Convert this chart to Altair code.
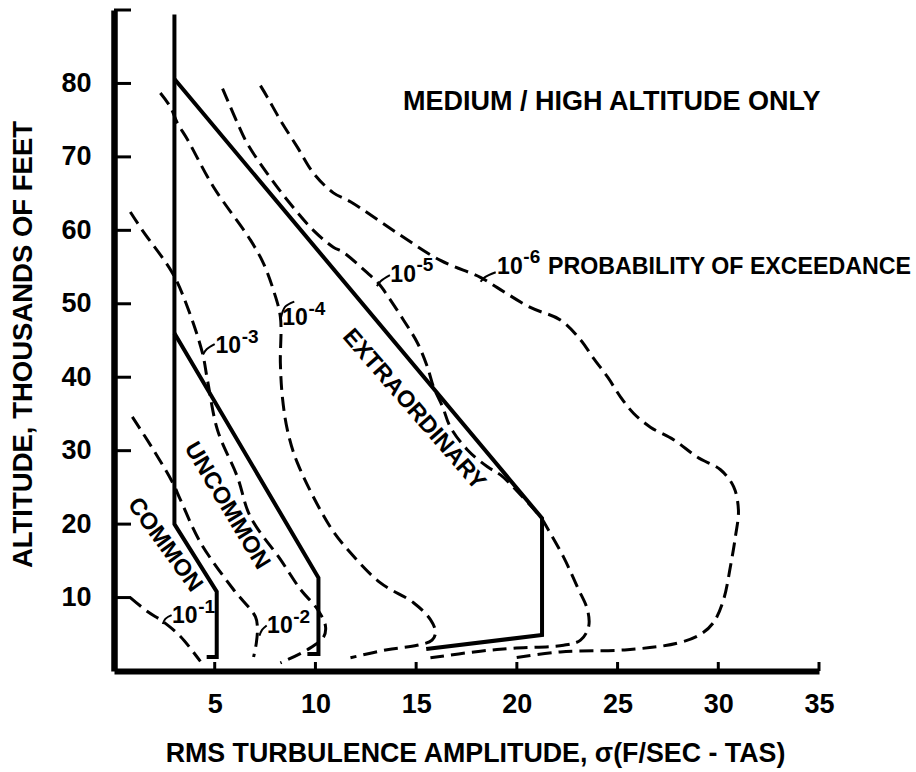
import altair as alt
import pandas as pd

FONT = "Liberation Sans, Arial, Helvetica, sans-serif"

# ---------------- solid region boundaries (sigma, altitude in 1000 ft)
common_x = [3.0, 3.0, 5.1, 5.1, 4.6]
common_y = [89.4, 20.0, 10.8, 1.9, 1.9]
uncommon_x = [3.0, 10.15, 10.15, 9.6]
uncommon_y = [46.0, 12.7, 2.3, 2.3]
extra_x = [3.0, 21.25, 21.25, 15.5]
extra_y = [80.6, 20.8, 4.9, 3.0]

# ---------------- probability of exceedance contours (dashed)
p1_x = [0.81, 1.66, 2.45, 3.30, 4.29]
p1_y = [10.0, 8.1, 6.7, 4.7, 1.3]
p2_x = [0.91, 1.96, 2.90, 3.30, 4.29, 5.93, 7.02, 7.12, 7.07, 6.93]
p2_y = [34.6, 30.1, 25.7, 23.3, 17.5, 11.1, 7.4, 6.0, 3.9, 1.9]
p3_x = [0.81, 1.41, 2.90, 3.64, 4.39, 4.64, 5.14, 6.13, 6.77, 8.26, 9.26, 10.1, 10.5, 10.4, 9.6, 8.26]
p3_y = [62.5, 60.0, 54.2, 49.6, 43.3, 39.6, 32.8, 26.4, 21.0, 15.2, 11.1, 8.4, 6.1, 4.6, 2.9, 1.1]
p4_x = [2.30, 2.80, 3.15, 3.64, 4.94, 6.77, 7.42, 7.91, 8.26, 8.26, 8.36, 8.61, 9.11, 10.74, 11.74,
        13.23, 14.87, 15.71, 15.96, 15.79, 15.05, 13.56, 11.74]
p4_y = [78.7, 76.8, 74.6, 72.4, 65.9, 58.7, 55.5, 51.9, 48.2, 41.9, 37.3, 32.8, 28.3, 19.6, 16.1,
        12.0, 9.3, 7.0, 5.3, 4.2, 3.5, 2.9, 1.8]
p5_x = [5.39, 5.64, 6.13, 6.62, 7.62, 8.61, 9.90, 10.89, 11.39, 12.58, 13.13, 13.48, 14.37, 15.06,
        15.56, 15.86, 16.31, 16.70, 17.55, 18.54, 19.19, 20.18, 21.22, 21.42, 22.32, 23.01, 23.51,
        23.56, 23.16, 22.32, 19.83, 18.19, 15.71]
p5_y = [79.3, 77.7, 74.6, 71.8, 67.7, 64.1, 60.0, 57.7, 57.0, 54.2, 52.8, 51.5, 47.8, 44.7,
        41.4, 38.7, 36.0, 33.2, 30.1, 27.8, 26.7, 24.0, 20.8, 19.9, 15.5, 11.4, 8.3,
        6.0, 4.2, 3.5, 3.1, 2.7, 1.8]
p6_x = [7.27, 7.62, 8.26, 9.11, 9.90, 10.89, 11.74, 14.07, 16.21, 18.19, 19.03, 20.67, 22.16, 23.16,
        23.80, 24.51, 25.15, 25.79, 26.63, 27.78, 28.97, 30.11, 30.76, 31.0, 30.85, 30.60, 30.26,
        29.76, 29.12, 27.98, 25.49, 22.16, 19.93, 19.68]
p6_y = [79.7, 78.1, 75.0, 71.3, 67.8, 65.1, 63.9, 59.6, 55.9, 53.6, 52.2, 49.5, 47.8, 45.1,
        42.6, 40.0, 37.3, 35.1, 33.2, 31.5, 29.1, 27.4, 25.1, 21.9, 18.3, 14.2, 9.7,
        6.6, 5.0, 3.8, 2.9, 2.6, 1.8, 1.7]

# ---------------- contour labels ("10" with a superscript exponent)
exp_labels = ["-1", "-2", "-3", "-4", "-5", "-6"]
base_x = [2.88, 7.60, 5.04, 8.35, 13.72, 19.02]
base_y = [6.56, 5.2, 43.3, 47.1, 53.0, 54.1]
sup_x = [4.18, 8.90, 6.34, 9.65, 15.02, 20.32]
sup_y = [7.95, 6.6, 44.7, 48.5, 54.4, 55.5]
# short leader hooks from each label to its contour
lead_x0 = [2.86, 7.58, 5.0, 8.95, 13.70, 18.95]
lead_y0 = [7.6, 6.2, 44.5, 50.3, 53.9, 54.3]
lead_xm = [2.55, 7.35, 4.60, 8.50, 13.25, 18.40]
lead_ym = [7.1, 5.6, 43.8, 49.6, 53.1, 53.6]
lead_x1 = [2.42, 7.22, 4.42, 8.28, 13.05, 18.20]
lead_y1 = [6.4, 4.8, 43.1, 48.0, 52.4, 53.0]

# ---------------- axis ticks
x_ticks = [5, 10, 15, 20, 25, 30, 35]
y_ticks = [10, 20, 30, 40, 50, 60, 70, 80]
y_ticks_marks = [10, 20, 30, 40, 50, 60, 70, 80, 90]


def frame(name, xs, ys):
    return pd.DataFrame({"x": xs, "y": ys, "seq": list(range(len(xs))), "curve": name})


solid = pd.concat([frame("common", common_x, common_y),
                   frame("uncommon", uncommon_x, uncommon_y),
                   frame("extra", extra_x, extra_y)])
dashed = pd.concat([frame("1e-1", p1_x, p1_y), frame("1e-2", p2_x, p2_y),
                    frame("1e-3", p3_x, p3_y), frame("1e-4", p4_x, p4_y),
                    frame("1e-5", p5_x, p5_y), frame("1e-6", p6_x, p6_y)])
leaders = pd.concat([frame(e, [a, c, g], [b, d, h]) for e, a, b, c, d, g, h in
                     zip(exp_labels, lead_x0, lead_y0, lead_xm, lead_ym, lead_x1, lead_y1)])
base_df = pd.DataFrame({"x": base_x, "y": base_y, "t": ["10"] * 6})
sup_df = pd.DataFrame({"x": sup_x, "y": sup_y, "t": exp_labels})

W, H = 705, 661
xs = alt.Scale(domain=[0, 35], nice=False, zero=False)
ys = alt.Scale(domain=[0, 90], nice=False, zero=False)

xaxis = alt.Axis(values=x_ticks, title="RMS TURBULENCE AMPLITUDE, σ(F/SEC - TAS)",
                 ticks=False, tickSize=0, grid=False, domainWidth=6, domainColor="black",
                 labelFont=FONT, labelFontSize=27, labelFontWeight="bold", labelColor="black",
                 labelPadding=20, labelFlush=False, labelOverlap=False,
                 titleFont=FONT, titleFontSize=26.8, titleFontWeight="bold", titleColor="black",
                 titleX=361, titleY=90, titleAlign="center", titleBaseline="alphabetic")
yaxis = alt.Axis(values=y_ticks, title="ALTITUDE, THOUSANDS OF FEET",
                 ticks=False, tickSize=0, grid=False, domainWidth=6.5, domainColor="black",
                 labelFont=FONT, labelFontSize=27, labelFontWeight="bold", labelColor="black",
                 labelPadding=23, labelFlush=False, labelOverlap=False,
                 titleFont=FONT, titleFontSize=27.5, titleFontWeight="bold", titleColor="black",
                 titleX=-91, titleY=334, titleAngle=270, titleAlign="center",
                 titleBaseline="middle")

X = alt.X("x:Q", scale=xs, axis=xaxis)
Y = alt.Y("y:Q", scale=ys, axis=yaxis)

solid_layer = alt.Chart(solid).mark_line(color="black", strokeWidth=4, strokeJoin="miter").encode(
    x=X, y=Y, detail="curve:N", order="seq:Q")
dashed_layer = alt.Chart(dashed).mark_line(color="black", strokeWidth=3, strokeDash=[14, 7],
                                           interpolate="catmull-rom").encode(
    x=X, y=Y, detail="curve:N", order="seq:Q")
leader_layer = alt.Chart(leaders).mark_line(color="black", strokeWidth=2,
                                            interpolate="catmull-rom").encode(
    x=X, y=Y, detail="curve:N", order="seq:Q")

xtick_layer = alt.Chart(pd.DataFrame({"x": x_ticks})).mark_rule(color="black", strokeWidth=3).encode(
    x=X, y=alt.value(H), y2=alt.value(H - 9))
ytick_layer = alt.Chart(pd.DataFrame({"y": y_ticks_marks})).mark_rule(color="black", strokeWidth=3).encode(
    y=Y, x=alt.value(0), x2=alt.value(17))

base_text = alt.Chart(base_df).mark_text(font=FONT, fontSize=23, fontWeight="bold", align="left",
                                         baseline="alphabetic", color="black").encode(
    x=X, y=Y, text="t:N")
sup_text = alt.Chart(sup_df).mark_text(font=FONT, fontSize=19, fontWeight="bold", align="left",
                                       baseline="alphabetic", color="black").encode(
    x=X, y=Y, text="t:N")

note_df = pd.DataFrame({"x": [14.35], "y": [76.4], "t": ["MEDIUM / HIGH ALTITUDE ONLY"]})
note = alt.Chart(note_df).mark_text(font=FONT, fontSize=27, fontWeight="bold", align="left",
                                    baseline="alphabetic", color="black").encode(x=X, y=Y, text="t:N")
prob_df = pd.DataFrame({"x": [21.55], "y": [54.1], "t": ["PROBABILITY OF EXCEEDANCE"]})
prob = alt.Chart(prob_df).mark_text(font=FONT, fontSize=23.2, fontWeight="bold", align="left",
                                    baseline="alphabetic", color="black").encode(x=X, y=Y, text="t:N")


def region_label(text, x, y, ang):
    df = pd.DataFrame({"x": [x], "y": [y], "t": [text]})
    return alt.Chart(df).mark_text(font=FONT, fontSize=23.5, fontWeight="bold", align="center",
                                   baseline="middle", angle=ang, color="black").encode(
        x=X, y=Y, text="t:N")


lab_common = region_label("COMMON", 2.53, 17.2, 54)
lab_uncommon = region_label("UNCOMMON", 5.61, 22.5, 59)
lab_extra = region_label("EXTRAORDINARY", 14.89, 35.6, 49)

chart = alt.layer(
    solid_layer, dashed_layer, leader_layer, xtick_layer, ytick_layer,
    base_text, sup_text, note, prob, lab_common, lab_uncommon, lab_extra
).properties(
    width=W, height=H,
    autosize=alt.AutoSizeParams(type="none"),
    padding={"left": 114, "top": 10, "right": 97, "bottom": 101},
    background="white",
).configure_view(stroke=None)

chart.save("out.html", embed_options={"renderer": "svg", "actions": False})
